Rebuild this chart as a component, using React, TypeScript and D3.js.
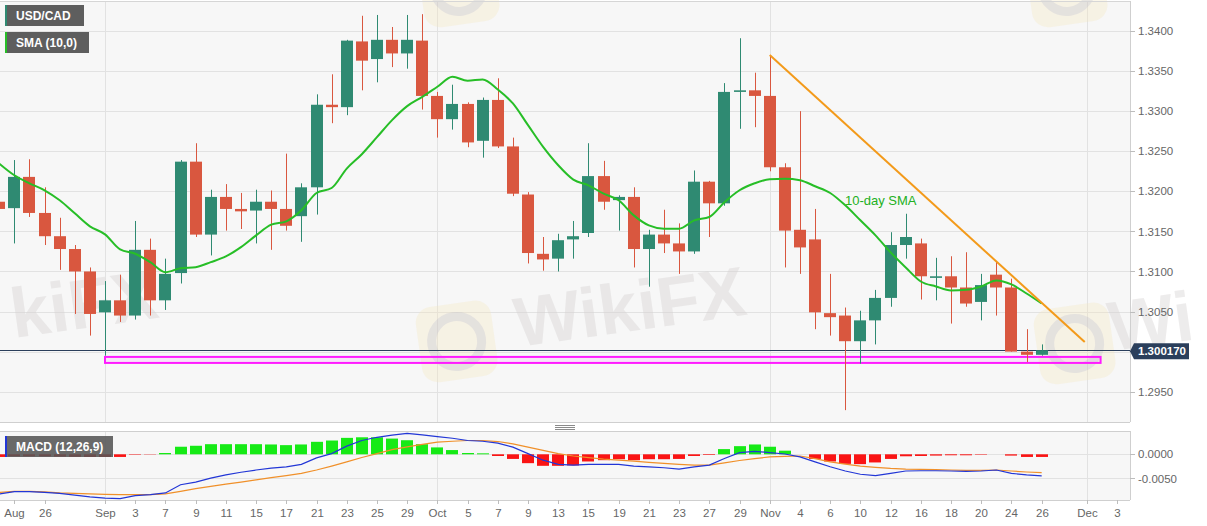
import React from "react";
import * as d3 from "d3";

const FONT = "'Liberation Sans', Arial, Helvetica, sans-serif";

// ---- calendar (weekdays) ----
const tradingDays: Date[] = d3.timeDay
  .range(new Date(2020, 7, 21), new Date(2020, 11, 5))
  .filter((d) => d.getDay() % 6 !== 0);
const fmt = d3.timeFormat("%Y-%m-%d");
const dayIndex = new Map<string, number>(tradingDays.map((d, i) => [fmt(d), i]));

// ---- USD/CAD daily OHLC (Aug 21 .. Nov 26, 2020) ----
const opens = [
  1.3187, 1.3179, 1.3218, 1.3173, 1.3144, 1.3128, 1.31,
  1.3049, 1.3064, 1.3045, 1.3127, 1.3064, 1.3098, 1.3237, 1.3146, 1.3193, 1.3178,
  1.3176, 1.3187, 1.3178, 1.3169, 1.3205, 1.3308, 1.3305, 1.3387, 1.3365, 1.3389,
  1.3372, 1.3388, 1.3319, 1.329, 1.3309, 1.3263, 1.3314, 1.3256, 1.3196, 1.3122,
  1.3116, 1.314, 1.3148, 1.3219, 1.3189, 1.3193, 1.3128, 1.3146, 1.3135, 1.3125,
  1.3212, 1.3185, 1.3324, 1.3326, 1.3319, 1.323, 1.3152, 1.314, 1.3048, 1.3045,
  1.3013, 1.3039, 1.3067, 1.3133, 1.3135, 1.3092, 1.3094, 1.308, 1.3062, 1.3096,
  1.308, 1.3, 1.2996,
];
const highs = [
  1.3235, 1.3239, 1.324, 1.3205, 1.3167, 1.3133, 1.3105,
  1.3088, 1.3096, 1.3163, 1.3141, 1.3116, 1.3239, 1.326, 1.3202, 1.3209, 1.3198,
  1.3202, 1.3201, 1.3247, 1.321, 1.3321, 1.3346, 1.3389, 1.3419, 1.342, 1.3405,
  1.342, 1.3421, 1.3324, 1.3333, 1.3311, 1.3317, 1.3341, 1.3267, 1.3199, 1.3143,
  1.3147, 1.3163, 1.326, 1.3238, 1.3195, 1.3205, 1.3152, 1.3177, 1.316, 1.3226,
  1.3213, 1.3335, 1.3391, 1.3348, 1.337, 1.3235, 1.33, 1.3178, 1.3097, 1.3055,
  1.3051, 1.3077, 1.3149, 1.3172, 1.3141, 1.3117, 1.3119, 1.3124, 1.3097, 1.3112,
  1.3091, 1.3028, 1.3009,
];
const lows = [
  1.316, 1.3135, 1.3168, 1.3133, 1.3102, 1.3047, 1.302,
  1.2995, 1.3037, 1.304, 1.3045, 1.3052, 1.3085, 1.3143, 1.312, 1.3151, 1.3153,
  1.3135, 1.3127, 1.3151, 1.3137, 1.3171, 1.3285, 1.3295, 1.3326, 1.3336, 1.3355,
  1.3353, 1.3302, 1.3267, 1.3277, 1.3255, 1.3242, 1.3254, 1.3194, 1.311, 1.3101,
  1.31, 1.3116, 1.3143, 1.3177, 1.3151, 1.3105, 1.3081, 1.3123, 1.3097, 1.3122,
  1.3143, 1.3182, 1.3278, 1.328, 1.3225, 1.3105, 1.3097, 1.3028, 1.302, 1.2927,
  1.2985, 1.3009, 1.3056, 1.3116, 1.3065, 1.3064, 1.3035, 1.3056, 1.3039, 1.3045,
  1.3, 1.2987, 1.2995,
];
const closes = [
  1.3178, 1.3218, 1.3173, 1.3144, 1.3128, 1.31, 1.3047,
  1.3064, 1.3045, 1.3127, 1.3064, 1.3097, 1.3237, 1.3146, 1.3193, 1.3178, 1.3175,
  1.3187, 1.3178, 1.3157, 1.3205, 1.3308, 1.3305, 1.3388, 1.3363, 1.3389, 1.3372,
  1.3389, 1.3319, 1.329, 1.3309, 1.3261, 1.3314, 1.3256, 1.3197, 1.3123, 1.3115,
  1.3139, 1.3144, 1.3219, 1.3187, 1.3193, 1.3128, 1.3146, 1.3135, 1.3125, 1.3212,
  1.3185, 1.3324, 1.3326, 1.3319, 1.323, 1.3151, 1.313, 1.3049, 1.3043, 1.3013,
  1.3039, 1.3067, 1.3133, 1.3143, 1.3094, 1.3094, 1.308, 1.306, 1.3083, 1.308,
  1.3, 1.2996, 1.30017,
];
// 10-day SMA as drawn
const sma10 = [
  1.32346, 1.322, 1.321, 1.32013, 1.31888, 1.31725, 1.31563,
  1.31463, 1.31275, 1.31221, 1.31116, 1.30991, 1.31041, 1.31054, 1.31116, 1.31188, 1.31304,
  1.3145, 1.31584, 1.31625, 1.31763, 1.31979, 1.32041, 1.32284, 1.32463, 1.32675, 1.32888,
  1.33063, 1.33179, 1.33304, 1.33429, 1.33379, 1.33396, 1.33271, 1.33096, 1.32825, 1.32554,
  1.32325, 1.32146, 1.32075, 1.31971, 1.31888, 1.317, 1.31575, 1.31534, 1.31534, 1.31638,
  1.31679, 1.31863, 1.32013, 1.321, 1.3215, 1.32156, 1.32138, 1.32063, 1.31979, 1.31825,
  1.31638, 1.3145, 1.31238, 1.3105, 1.30875, 1.30813, 1.30763, 1.30771, 1.30813, 1.30888,
  1.30838, 1.30725, 1.306,
];
// MACD (12,26,9)
const macdLine = [
  -0.00822, -0.00775, -0.00775, -0.00789, -0.0081, -0.00847, -0.00883,
  -0.00908, -0.00918, -0.00857, -0.00836, -0.00802, -0.00632, -0.00577, -0.00496, -0.00428, -0.00373,
  -0.00326, -0.00286, -0.00259, -0.0021, -0.00075, 0.00014, 0.00169, 0.00286, 0.00353, 0.00398,
  0.00435, 0.00402, 0.00367, 0.00333, 0.00286, 0.00271, 0.00231, 0.00149, 0.00014, -0.00122,
  -0.0021, -0.00224, -0.0021, -0.0021, -0.0021, -0.00245, -0.00259, -0.00279, -0.00306, -0.00259,
  -0.00224, -0.00088, 0.00035, 0.00061, 0.00035, 0.00006, -0.00055, -0.00157, -0.00259, -0.00347,
  -0.00414, -0.00443, -0.00394, -0.00347, -0.00341, -0.00341, -0.00347, -0.00353, -0.00347, -0.00326,
  -0.00394, -0.00428, -0.00449,
];
const signalLine = [
  -0.00789, -0.00769, -0.00769, -0.00781, -0.00802, -0.00812, -0.00822,
  -0.0083, -0.00836, -0.00836, -0.00836, -0.00822, -0.00769, -0.00714, -0.00667, -0.00618, -0.00577,
  -0.0053, -0.00483, -0.00442, -0.00394, -0.00326, -0.00245, -0.00157, -0.00067, 0.00014, 0.00096,
  0.00153, 0.00204, 0.00251, 0.00271, 0.00286, 0.00286, 0.00265, 0.00218, 0.00149, 0.00082,
  0.00014, -0.00035, -0.00067, -0.00102, -0.00122, -0.00143, -0.00169, -0.0019, -0.0021, -0.00224,
  -0.00224, -0.00177, -0.00129, -0.00088, -0.00055, -0.00041, -0.00035, -0.00088, -0.00157, -0.00204,
  -0.00245, -0.00271, -0.00292, -0.00306, -0.00312, -0.0032, -0.00326, -0.00333, -0.00333, -0.00326,
  -0.00347, -0.00367, -0.00381,
];
const histogram = [
  -0.00055, -0.00041, -0.00041, -0.00041, -0.00047, -0.00051, -0.00055,
  -0.00055, -0.00055, -0.0001, -0.00006, 0.00027, 0.00157, 0.00177, 0.0021, 0.0021, 0.0021,
  0.0021, 0.00204, 0.0019, 0.00204, 0.00259, 0.00286, 0.00341, 0.00353, 0.00353, 0.00326,
  0.00292, 0.0021, 0.00143, 0.00088, 0.00027, 0.0002, -0.00035, -0.00096, -0.00184, -0.00239,
  -0.00239, -0.00231, -0.00149, -0.00122, -0.00102, -0.00122, -0.00102, -0.00102, -0.00096, -0.00035,
  -0.00014, 0.00108, 0.00169, 0.00204, 0.00157, 0.00075, 0, -0.00096, -0.00149, -0.00198,
  -0.00204, -0.00169, -0.00096, -0.00041, -0.00035, -0.00027, -0.0002, -0.0002, -0.0001, 0,
  -0.00027, -0.00055, -0.00055,
];

// ---- axes / annotations ----
const tickDates = [
  "2020-08-24", "2020-08-26", "2020-09-01", "2020-09-03", "2020-09-07", "2020-09-09", "2020-09-11",
  "2020-09-15", "2020-09-17", "2020-09-21", "2020-09-23", "2020-09-25", "2020-09-29", "2020-10-01",
  "2020-10-05", "2020-10-07", "2020-10-09", "2020-10-13", "2020-10-15", "2020-10-19", "2020-10-21",
  "2020-10-23", "2020-10-27", "2020-10-29", "2020-11-02", "2020-11-04", "2020-11-06", "2020-11-10",
  "2020-11-12", "2020-11-16", "2020-11-18", "2020-11-20", "2020-11-24", "2020-11-26", "2020-12-01",
  "2020-12-03",
];
const tickTexts = [
  "Aug", "26", "Sep", "3", "7", "9", "11", "15", "17", "21", "23", "25", "29", "Oct", "5", "7", "9",
  "13", "15", "19", "21", "23", "27", "29", "Nov", "4", "6", "10", "12", "16", "18", "20", "24", "26",
  "Dec", "3",
];
const monthStarts = ["2020-09-01", "2020-10-01", "2020-11-02", "2020-12-01"];
const priceTicks = [1.295, 1.3, 1.305, 1.31, 1.315, 1.32, 1.325, 1.33, 1.335, 1.34];
const priceLabelTicks = [1.295, 1.305, 1.31, 1.315, 1.32, 1.325, 1.33, 1.335, 1.34];
const macdTicks = [0, -0.005];
const currentPrice = 1.30017;
const trendIdx = [51, 71.85];
const trendVals = [1.337, 1.3012];
const zoneIdx = [7, 72.9];
const zoneVals = [1.29859, 1.29934];

const W = 1207;
const H = 526;
const PL = 0;
const PR = 1130;
const MT = 1;
const MB = 422;
const CT = 431;
const CB = 500;

export default function App() {
  const x = d3.scaleLinear().domain([7, 72]).range([105, 1087]);
  const y = d3.scaleLinear().domain([1.295, 1.34]).range([391.7, 31]);
  const ym = d3.scaleLinear().domain([-0.005, 0]).range([478.4, 454.3]);

  const idx = (s: string) => dayIndex.get(s) as number;
  const bull = "#2f8a72";
  const bear = "#d9573f";

  const smaPath = d3
    .line<number>()
    .x((_, i) => x(i))
    .y((v) => y(v))
    .curve(d3.curveMonotoneX)(sma10) as string;
  const macdPath = d3
    .line<number>()
    .x((_, i) => x(i))
    .y((v) => ym(v))(macdLine) as string;
  const sigPath = d3
    .line<number>()
    .x((_, i) => x(i))
    .y((v) => ym(v))(signalLine) as string;

  const logo = (dx: number, dy: number, key: string) => (
    <g key={key} transform={`translate(${dx},${dy}) rotate(-8)`} opacity={0.55}>
      <rect x={-98} y={-52} width={76} height={76} rx={16} fill="#f5e7bf" opacity={0.6} />
      <circle cx={-60} cy={-14} r={25} fill="none" stroke="#c9c5c5" strokeWidth={9} opacity={0.7} />
    </g>
  );
  const wmText = (dx: number, dy: number, txt: string, key: string) => (
    <g key={key} transform={`translate(${dx},${dy}) rotate(-8)`} opacity={0.55}>
      <text x={0} y={0} fontFamily={FONT} fontWeight="bold" fontSize={70} fill="#d6d2d2" opacity={0.75}>
        {txt}
      </text>
    </g>
  );

  return (
    <div style={{ position: "absolute", left: 0, top: 0 }}>
      <svg width={W} height={H} style={{ display: "block", background: "#fff" }}>
        <defs>
          <clipPath id="mainClip">
            <rect x={PL} y={MT} width={PR - PL} height={MB - MT} />
          </clipPath>
          <clipPath id="macdClip">
            <rect x={PL} y={CT} width={PR - PL} height={CB - CT} />
          </clipPath>
        </defs>

        {/* panel backgrounds */}
        <rect x={PL} y={MT} width={PR - PL} height={MB - MT} fill="#f7f7f7" />
        <rect x={PL} y={CT} width={PR - PL} height={CB - CT} fill="#f7f7f7" />

        {/* horizontal grid */}
        {priceTicks.map((v) => (
          <line key={"g" + v} x1={PL} x2={PR} y1={Math.round(y(v)) + 0.5} y2={Math.round(y(v)) + 0.5} stroke="#e2e2e2" />
        ))}
        {macdTicks.map((v) => (
          <line key={"gm" + v} x1={PL} x2={PR} y1={Math.round(ym(v)) + 0.5} y2={Math.round(ym(v)) + 0.5} stroke="#e2e2e2" />
        ))}
        {/* vertical month grid */}
        {monthStarts.map((s) => {
          const xx = Math.round(x(idx(s))) + 0.5;
          return (
            <g key={"v" + s}>
              <line x1={xx} x2={xx} y1={MT} y2={MB} stroke="#e2e2e2" />
              <line x1={xx} x2={xx} y1={CT} y2={CB} stroke="#e2e2e2" />
            </g>
          );
        })}

        {/* watermarks */}
        {wmText(14, 338, "kiFX", "t1")}
        {logo(518, 347, "l2")}
        {wmText(518, 347, "WikiFX", "t2")}
        {logo(1136, 349, "l3")}
        {wmText(1112, 351, "Wi", "t3")}
        {logo(520, -8, "l4")}
        {logo(1128, -8, "l5")}

        <g clipPath="url(#mainClip)">
          {/* support zone */}
          <rect
            x={x(zoneIdx[0])}
            y={y(zoneVals[1])}
            width={x(zoneIdx[1]) - x(zoneIdx[0])}
            height={y(zoneVals[0]) - y(zoneVals[1])}
            fill="rgba(255,0,255,0.07)"
            stroke="#ff1aff"
            strokeWidth={2}
          />
          {/* current price line */}
          <line x1={PL} x2={PR} y1={Math.round(y(currentPrice)) + 0.5} y2={Math.round(y(currentPrice)) + 0.5} stroke="#2b3f5c" strokeWidth={1} />

          {/* candles */}
          {opens.map((o, i) => {
            const c = closes[i];
            const col = c >= o ? bull : bear;
            const cx = Math.round(x(i));
            const top = y(Math.max(o, c));
            const bot = y(Math.min(o, c));
            return (
              <g key={"c" + i}>
                <rect x={cx} y={y(highs[i])} width={1} height={y(lows[i]) - y(highs[i])} fill={col} />
                <rect x={cx - 6} y={top} width={12} height={Math.max(1.2, bot - top)} fill={col} />
              </g>
            );
          })}

          {/* SMA */}
          <path d={smaPath} fill="none" stroke="#27be27" strokeWidth={2} />
          {/* trend line */}
          <line
            x1={x(trendIdx[0])}
            y1={y(trendVals[0])}
            x2={x(trendIdx[1])}
            y2={y(trendVals[1])}
            stroke="#f39a1a"
            strokeWidth={2}
          />
        </g>

        <text x={845} y={205} fontFamily={FONT} fontSize={13} fill="#22b022">
          10-day SMA
        </text>

        {/* MACD panel */}
        <g clipPath="url(#macdClip)">
          {histogram.map((v, i) => {
            const cx = Math.round(x(i));
            const y0 = ym(0);
            const y1 = ym(v);
            return (
              <rect
                key={"h" + i}
                x={cx - 6}
                y={Math.min(y0, y1)}
                width={12}
                height={Math.abs(y1 - y0)}
                fill={v >= 0 ? "#16ea16" : "#fa1414"}
              />
            );
          })}
          <path d={sigPath} fill="none" stroke="#f0902a" strokeWidth={1.2} />
          <path d={macdPath} fill="none" stroke="#2236d6" strokeWidth={1.2} />
        </g>

        {/* panel borders */}
        <line x1={PL} x2={PR} y1={MT + 0.5} y2={MT + 0.5} stroke="#d6d6d6" />
        <line x1={PL} x2={PR} y1={MB + 0.5} y2={MB + 0.5} stroke="#cfcfcf" />
        <line x1={PL} x2={PR} y1={CT + 0.5} y2={CT + 0.5} stroke="#cfcfcf" />
        <line x1={PL} x2={PR} y1={CB + 0.5} y2={CB + 0.5} stroke="#cfcfcf" />
        <line x1={PR + 0.5} x2={PR + 0.5} y1={MT} y2={MB} stroke="#cfcfcf" />
        <line x1={PR + 0.5} x2={PR + 0.5} y1={CT} y2={CB} stroke="#cfcfcf" />

        {/* separator handle */}
        {[0, 2, 4].map((k) => (
          <line key={"hd" + k} x1={555} x2={575} y1={425.5 + k} y2={425.5 + k} stroke="#8a8a8a" />
        ))}

        {/* right price axis */}
        {priceLabelTicks.map((v) => (
          <g key={"pt" + v}>
            <line x1={PR} x2={PR + 5} y1={Math.round(y(v)) + 0.5} y2={Math.round(y(v)) + 0.5} stroke="#bdbdbd" />
            <text x={1138} y={y(v)} dy="0.36em" fontFamily={FONT} fontSize={11.5} fill="#666">
              {v.toFixed(4)}
            </text>
          </g>
        ))}
        {macdTicks.map((v) => (
          <g key={"mt" + v}>
            <line x1={PR} x2={PR + 5} y1={Math.round(ym(v)) + 0.5} y2={Math.round(ym(v)) + 0.5} stroke="#bdbdbd" />
            <text x={1138} y={ym(v)} dy="0.36em" fontFamily={FONT} fontSize={11.5} fill="#666">
              {v.toFixed(4)}
            </text>
          </g>
        ))}

        {/* current price label */}
        <path
          d={`M${PR},${y(currentPrice) + 1} L${PR + 4},${y(currentPrice) - 7} H${1189} V${y(currentPrice) + 9} H${PR + 4} Z`}
          fill="#2b3f5c"
        />
        <text x={1138} y={y(currentPrice) + 1} dy="0.36em" fontFamily={FONT} fontSize={11.5} fontWeight="bold" fill="#fff">
          {currentPrice.toFixed(6)}
        </text>

        {/* x axis */}
        {tickDates.map((s, k) => {
          const xx = Math.round(x(idx(s))) + 0.5;
          return (
            <g key={"xt" + s}>
              <line x1={xx} x2={xx} y1={CB} y2={CB + 4} stroke="#bdbdbd" />
              <text x={Math.max(xx, 11)} y={517} textAnchor="middle" fontFamily={FONT} fontSize={11.5} fill="#666">
                {tickTexts[k]}
              </text>
            </g>
          );
        })}

        {/* legends */}
        <rect x={5} y={5} width={79} height={21} fill="#5e5e5e" />
        <rect x={5} y={5} width={2} height={21} fill={bull} />
        <text x={16} y={20} fontFamily={FONT} fontSize={12} fontWeight="bold" fill="#fff">
          USD/CAD
        </text>
        <rect x={5} y={32} width={84} height={21} fill="#5e5e5e" />
        <rect x={5} y={32} width={2} height={21} fill="#27be27" />
        <text x={16} y={47} fontFamily={FONT} fontSize={12} fontWeight="bold" fill="#fff">
          SMA (10,0)
        </text>
        <rect x={5} y={436} width={108} height={21} fill="#555" opacity={0.88} />
        <rect x={5} y={436} width={2} height={21} fill="#2236d6" />
        <text x={16} y={451} fontFamily={FONT} fontSize={12} fontWeight="bold" fill="#fff">
          MACD (12,26,9)
        </text>
      </svg>
    </div>
  );
}
